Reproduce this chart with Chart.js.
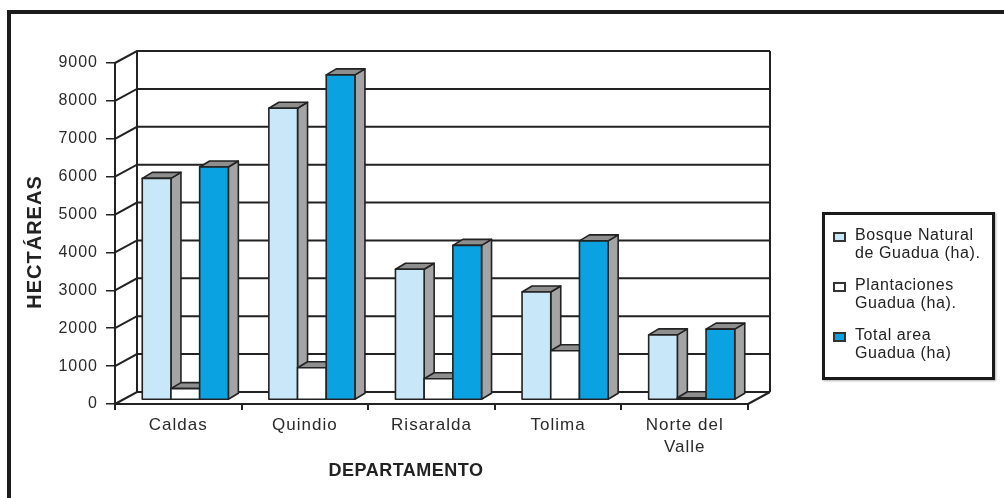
<!DOCTYPE html>
<html>
<head>
<meta charset="utf-8">
<script src="https://cdn.jsdelivr.net/npm/chart.js@4.4.1/dist/chart.umd.min.js"></script>
<style>
    html, body { margin: 0; padding: 0; background: #fff; }
    #wrap { position: relative; width: 1004px; height: 498px; overflow: hidden; font-family: "Liberation Sans", Arial, sans-serif; }
    #frame { position: absolute; left: 7px; top: 10px; width: 1100px; height: 600px; border-top: 4px solid #1c1c1c; border-left: 4px solid #1c1c1c; }
    #chartBox { position: absolute; left: 0; top: 0; width: 1004px; height: 498px; }
    #legend { position: absolute; left: 822px; top: 212px; width: 173px; height: 168px; box-sizing: border-box; border: 3px solid #1a1a1a; background: #fff; box-shadow: 1px 1px 2px rgba(0,0,0,0.3); }
    .item { position: absolute; left: 8px; color: #222; font-size: 16px; line-height: 18px; letter-spacing: 0.6px; }
    .item .mark { position: absolute; left: 0; top: 6px; width: 9px; height: 6px; border: 2px solid #333; }
    .item .txt { position: absolute; left: 22px; top: 0; white-space: nowrap; }
</style>
</head>
<body>
<div id="wrap">
    <div id="frame"></div>
    <div id="chartBox"><canvas id="chart"></canvas></div>
    <div id="legend"></div>
</div>
<script>
const categories = ['Caldas', 'Quindio', 'Risaralda', 'Tolima', ['Norte del', 'Valle']];
const bosqueNatural = [5850, 7700, 3450, 2850, 1720];
const plantaciones = [300, 850, 560, 1300, 60];
const totalArea = [6150, 8580, 4080, 4200, 1870];
const yTicks = [0, 1000, 2000, 3000, 4000, 5000, 6000, 7000, 8000, 9000];
const seriesNames = [
    ['Bosque Natural', 'de Guadua (ha).'],
    ['Plantaciones', 'Guadua (ha).'],
    ['Total area', 'Guadua (ha)']
];
const seriesColors = ['#c8e7f9', '#ffffff', '#0ba2e2'];

// 3D look: back wall offset, where the bars sit in depth, and bar depth
const WALL = { dx: 22, dy: -12 };
const BAR_SHIFT = { dx: 7, dy: -4 };
const BAR_DEPTH = { dx: 10, dy: -6 };
const LINE = '#222';

function face(ctx, pts, fill) {
    ctx.beginPath();
    ctx.moveTo(pts[0][0], pts[0][1]);
    pts.slice(1).forEach(p => ctx.lineTo(p[0], p[1]));
    ctx.closePath();
    ctx.fillStyle = fill;
    ctx.fill();
    ctx.stroke();
}

const box3d = {
    id: 'box3d',
    beforeDraw(chart) {
        chart.ctx.letterSpacing = '1px';
    },
    beforeDatasetsDraw(chart) {
        const { ctx, chartArea: a, scales: { y } } = chart;
        ctx.save();
        ctx.strokeStyle = LINE;
        ctx.lineWidth = 2;

        const bl = a.left + WALL.dx;
        const br = a.right + WALL.dx;

        // side wall diagonals + back wall gridlines
        yTicks.forEach(v => {
            const py = y.getPixelForValue(v);
            ctx.beginPath();
            ctx.moveTo(a.left, py);
            ctx.lineTo(bl, py + WALL.dy);
            ctx.lineTo(br, py + WALL.dy);
            ctx.stroke();
        });

        const top = y.getPixelForValue(yTicks[yTicks.length - 1]) + WALL.dy;
        const bot = y.getPixelForValue(0) + WALL.dy;
        ctx.beginPath();
        ctx.moveTo(bl, bot); ctx.lineTo(bl, top);
        ctx.moveTo(br, bot); ctx.lineTo(br, top);
        ctx.moveTo(a.right, y.getPixelForValue(0)); ctx.lineTo(br, bot);
        ctx.stroke();

        // bars, left to right so the next front face hides the previous side
        const bars = [];
        chart.data.datasets.forEach((ds, di) => {
            chart.getDatasetMeta(di).data.forEach(el => bars.push({ el, color: seriesColors[di] }));
        });
        bars.sort((p, q) => p.el.x - q.el.x);

        ctx.lineWidth = 1.6;
        ctx.lineJoin = 'round';
        bars.forEach(({ el, color }) => {
            const l = el.x - el.width / 2 + BAR_SHIFT.dx;
            const r = el.x + el.width / 2 + BAR_SHIFT.dx;
            const t = el.y + BAR_SHIFT.dy;
            const b = el.base + BAR_SHIFT.dy;
            const dx = BAR_DEPTH.dx, dy = BAR_DEPTH.dy;
            face(ctx, [[r, b], [r + dx, b + dy], [r + dx, t + dy], [r, t]], '#a4a4a4');
            face(ctx, [[l, t], [l + dx, t + dy], [r + dx, t + dy], [r, t]], '#8e8e8e');
            face(ctx, [[l, t], [r, t], [r, b], [l, b]], color);
        });

        ctx.restore();
        return false;
    },
    afterDraw(chart) {
        const ctx = chart.ctx;
        ctx.save();
        ctx.fillStyle = '#222';
        ctx.textAlign = 'center';
        ctx.textBaseline = 'middle';

        ctx.letterSpacing = '0.5px';
        ctx.font = 'bold 18px "Liberation Sans", Arial, sans-serif';
        ctx.fillText('DEPARTAMENTO', 406, 471);

        ctx.letterSpacing = '1px';
        ctx.font = 'bold 20px "Liberation Sans", Arial, sans-serif';
        ctx.translate(35, 242);
        ctx.rotate(-Math.PI / 2);
        ctx.fillText('HECTÁREAS', 0, 0);
        ctx.restore();
    }
};

new Chart(document.getElementById('chart'), {
    type: 'bar',
    data: {
        labels: categories,
        datasets: [
            { label: seriesNames[0].join(' '), data: bosqueNatural, backgroundColor: seriesColors[0] },
            { label: seriesNames[1].join(' '), data: plantaciones, backgroundColor: seriesColors[1] },
            { label: seriesNames[2].join(' '), data: totalArea, backgroundColor: seriesColors[2] }
        ]
    },
    options: {
        responsive: true,
        maintainAspectRatio: false,
        animation: false,
        layout: { padding: { left: 0, top: 63, right: 256, bottom: 34 } },
        datasets: { bar: { categoryPercentage: 0.68, barPercentage: 1 } },
        plugins: {
            legend: { display: false },
            tooltip: { enabled: false }
        },
        scales: {
            x: {
                afterFit: s => { s.height = 60; },
                border: { display: true, color: LINE, width: 2 },
                grid: { display: true, drawOnChartArea: false, drawTicks: true, tickLength: 6, color: LINE, lineWidth: 2 },
                ticks: {
                    color: '#2a2a2a',
                    padding: 5,
                    maxRotation: 0,
                    font: { family: '"Liberation Sans", Arial, sans-serif', size: 17, lineHeight: 1.25 }
                }
            },
            y: {
                min: 0,
                max: 9000,
                afterFit: s => { s.width = 115; },
                border: { display: true, color: LINE, width: 2 },
                grid: { display: true, drawOnChartArea: false, drawTicks: true, tickLength: 9, color: LINE, lineWidth: 1.5 },
                ticks: {
                    stepSize: 1000,
                    color: '#2a2a2a',
                    padding: 8,
                    callback: v => String(v),
                    font: { family: '"Liberation Sans", Arial, sans-serif', size: 16 }
                }
            }
        }
    },
    plugins: [box3d]
});

const legendEl = document.getElementById('legend');
seriesNames.forEach((name, i) => {
    const item = document.createElement('div');
    item.className = 'item';
    item.style.top = (11 + i * 50) + 'px';
    item.innerHTML = `<span class="mark" style="background:${seriesColors[i]}"></span>` +
        `<span class="txt">${name[0]}<br>${name[1]}</span>`;
    legendEl.appendChild(item);
});
</script>
</body>
</html>
